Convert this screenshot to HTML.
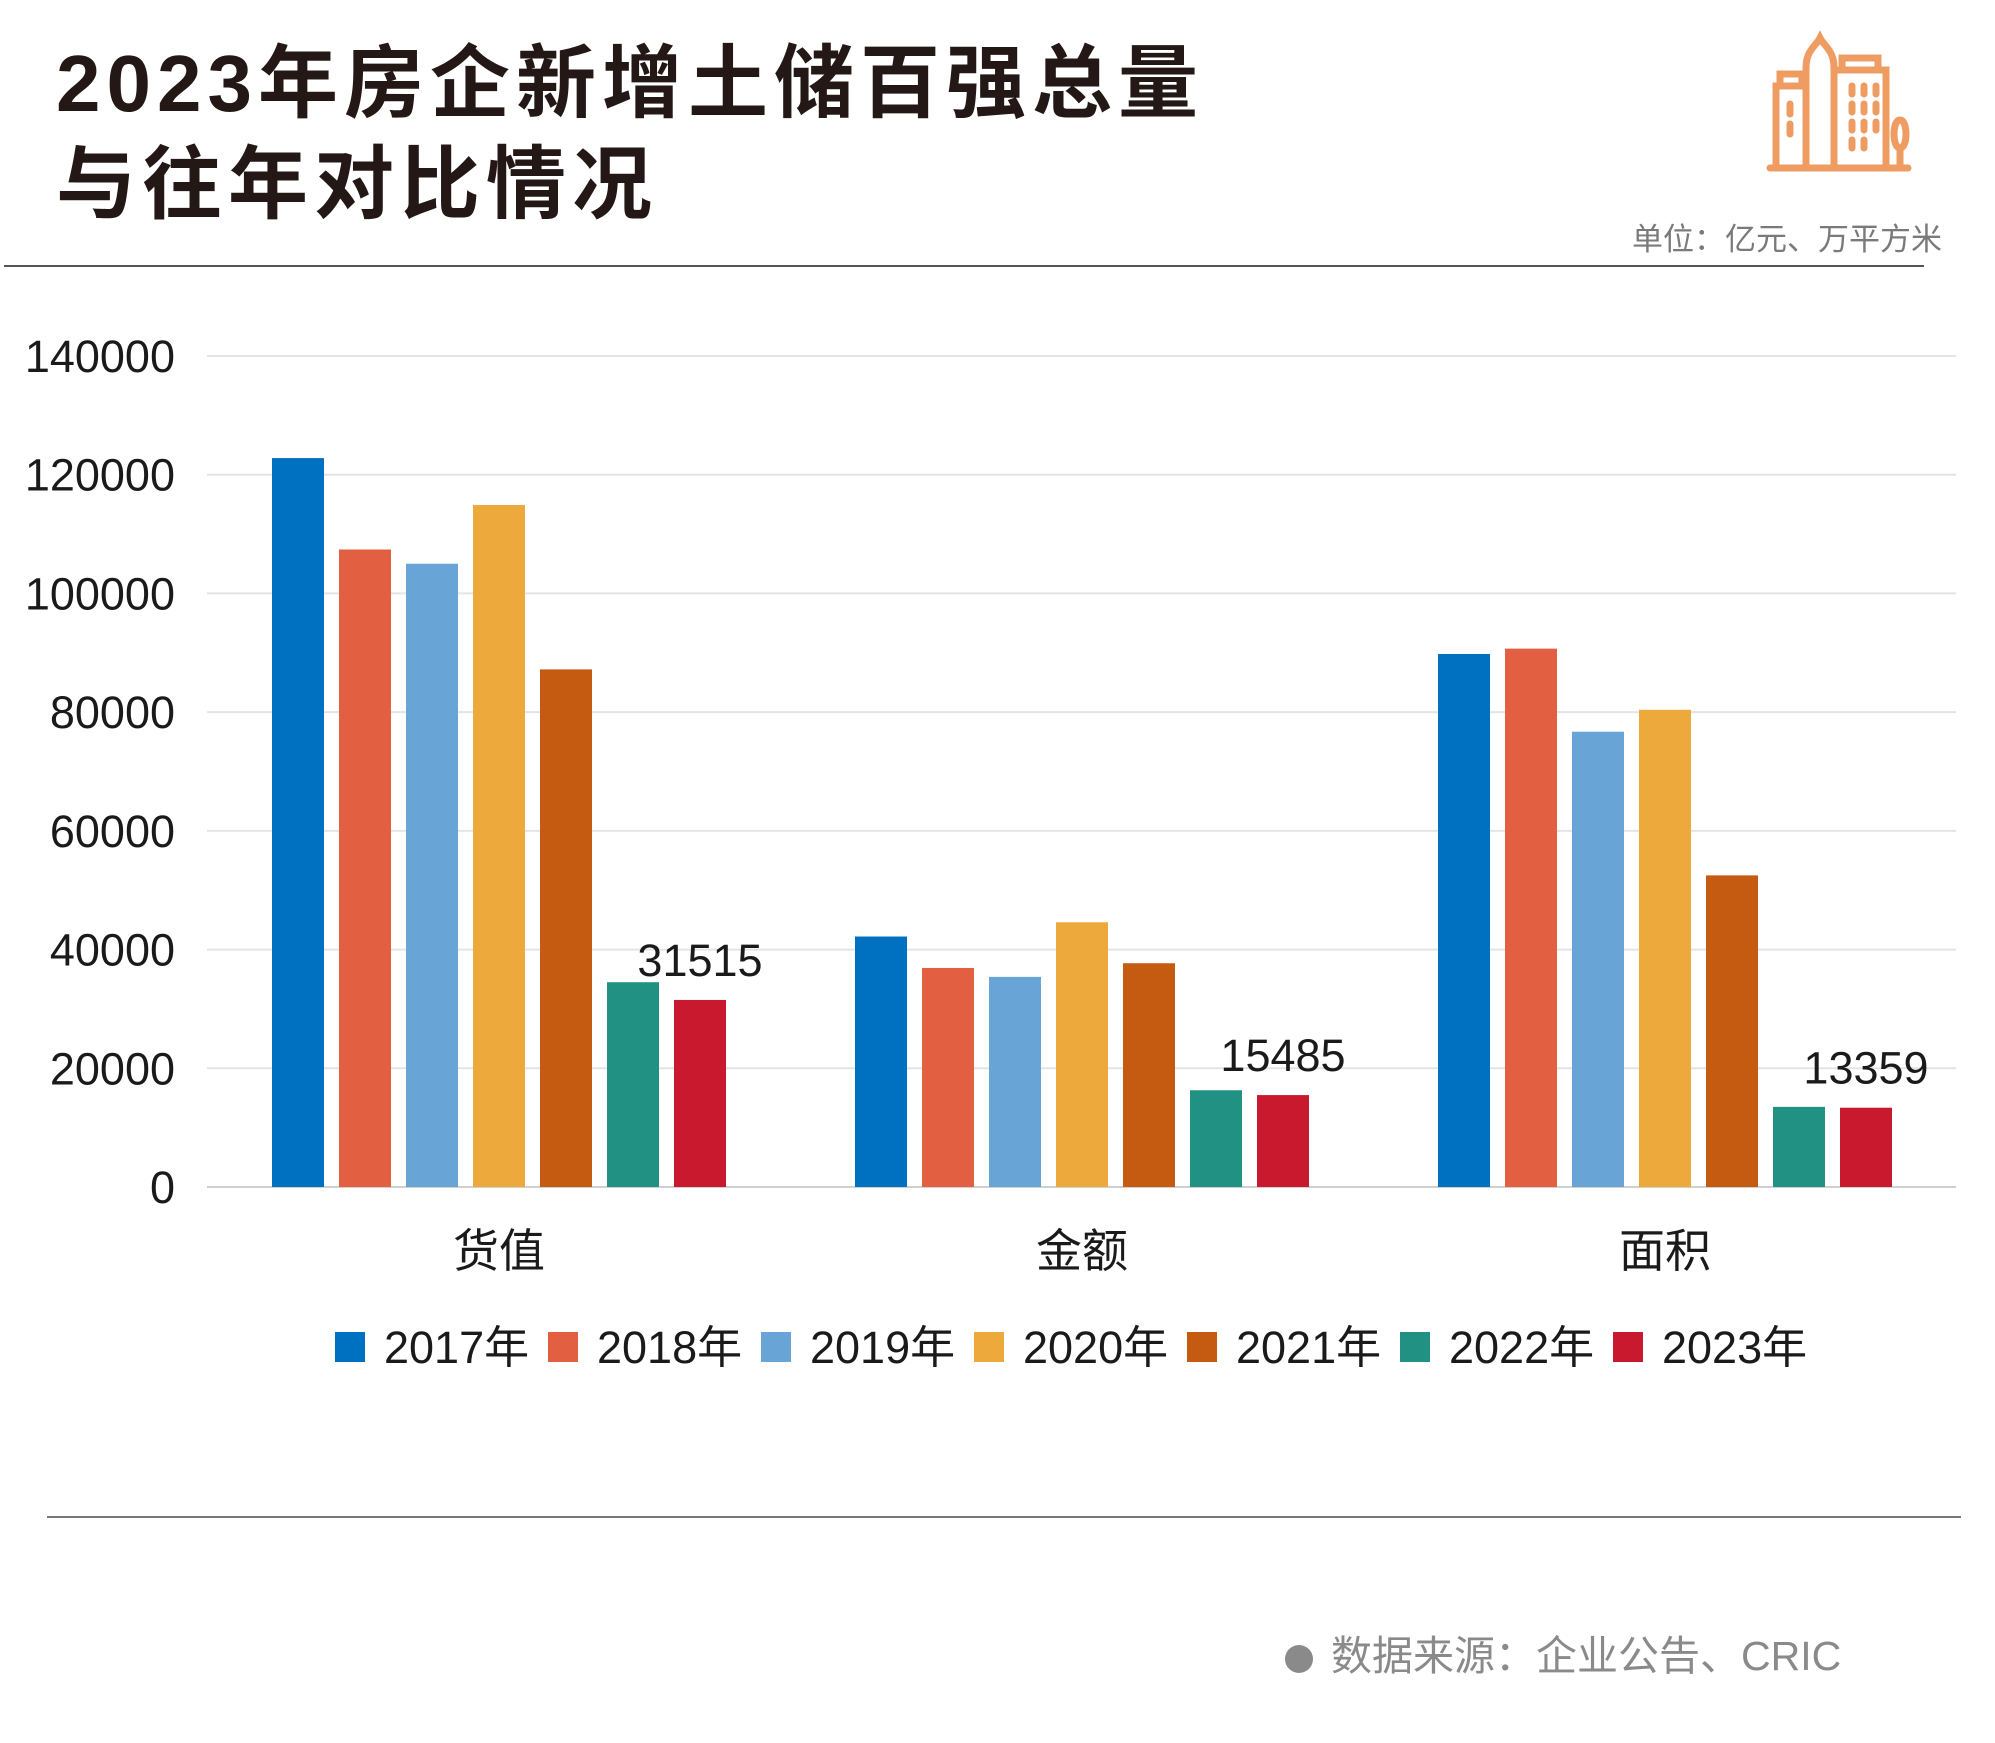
<!DOCTYPE html>
<html><head><meta charset="utf-8">
<style>
body{margin:0;background:#fff;width:1995px;height:1743px;overflow:hidden;font-family:"Liberation Sans","Noto Sans CJK SC",sans-serif;}
.t{position:absolute;left:56px;font-weight:bold;font-size:80px;color:#231815;letter-spacing:6px;line-height:1;}
</style></head><body>
<div class="t" style="top:44px">2023年房企新增土储百强总量</div>
<div class="t" style="top:145px">与往年对比情况</div>
<svg style="position:absolute;left:1760px;top:28px" width="160" height="150" viewBox="0 0 160 150" fill="none" stroke="#EF9C63" stroke-width="7" stroke-linecap="round">
<path d="M16 140V58h30V140M20 58V46h22V58M46 140V40c0-18 10-22 14-30 4 8 14 12 14 30v100M74 140V42h52v98M82 42V30h36v12M10 140h138M30 76v10M30 96v10"/>
<path d="M92 58v8M104 58v8M116 58v8M92 76v8M104 76v8M116 76v8M92 94v8M104 94v8M116 94v8M92 112v8M104 112v8"/>
<path d="M140 140v-20M140 120c-8 0-8-28 0-28 8 0 8 28 0 28z"/>
</svg>
<div style="position:absolute;right:53px;top:214px;font-size:31px;color:#7a7a7a;">单位：亿元、万平方米</div>
<div style="position:absolute;left:4px;top:265px;width:1920px;height:2px;background:#555;"></div>
<svg id="chart" style="position:absolute;left:0;top:0" width="1995" height="1743"></svg>
<div style="position:absolute;left:47px;top:1516px;width:1914px;height:2px;background:#777;"></div>
<div style="position:absolute;left:1285px;top:1622px;font-size:41px;color:#8a8a8a;white-space:nowrap;"><span style="display:inline-block;width:28px;height:28px;border-radius:50%;background:#8a8a8a;margin-right:18px;vertical-align:middle"></span>数据来源：企业公告、CRIC</div>
<script>
const categories=["货值","金额","面积"];
const years=["2017年","2018年","2019年","2020年","2021年","2022年","2023年"];
const colors=["#0070C0","#E35F42","#68A4D6","#EDA93B","#C55A11","#219184","#C8192F"];
const s2017=[122800,42200,89800];
const s2018=[107400,36900,90700];
const s2019=[105000,35400,76700];
const s2020=[114900,44600,80400];
const s2021=[87200,37700,52500];
const s2022=[34500,16300,13500];
const s2023=[31515,15485,13359];
const series=[s2017,s2018,s2019,s2020,s2021,s2022,s2023];
const ticks=[0,20000,40000,60000,80000,100000,120000,140000];
const svg=document.getElementById('chart');
const NS='http://www.w3.org/2000/svg';
const y0=1187,yTop=356,vMax=140000;
const yScale=v=>y0-(v/vMax)*(y0-yTop);
const groupX=i=>272+i*583;
const barX=(g,s)=>groupX(g)+s*67;
const bw=52;
function mk(tag,attrs){const e=document.createElementNS(NS,tag);for(const k in attrs)e.setAttribute(k,attrs[k]);svg.appendChild(e);return e;}
ticks.forEach(t=>{
  const l=mk('line',{x1:207,x2:1956,y1:yScale(t),y2:yScale(t),stroke:t===0?'#d0d0d0':'#e4e4e4','stroke-width':2});
  
  
  const tx=mk('text',{x:175,y:yScale(t)+16,'text-anchor':'end','font-size':45,fill:'#1a1a1a'});
  tx.textContent=t;
  
  
});
series.forEach((arr,s)=>{
  arr.forEach((v,g)=>{
    const r=mk('rect',{x:barX(g,s),y:yScale(v),width:bw,height:y0-yScale(v),fill:colors[s]});
    
    
  });
});
s2023.forEach((v,g)=>{
  const tx=mk('text',{x:barX(g,6)+bw/2,y:yScale(v)-24,'text-anchor':'middle','font-size':45,fill:'#1a1a1a'});
  tx.textContent=v;
  
  
});
categories.forEach((c,g)=>{
  const tx=mk('text',{x:groupX(g)+3*67+bw/2,y:1267,'text-anchor':'middle','font-size':46,fill:'#1a1a1a'});
  tx.textContent=c;
  
  
});
years.forEach((yr,i)=>{
  const x=335+i*213;
  const r=mk('rect',{x:x,y:1332,width:30,height:30,fill:colors[i]});
  
  
  const tx=mk('text',{x:x+49,y:1363,'font-size':45,fill:'#1a1a1a'});
  tx.textContent=yr;
  
  
});
</script>
</body></html>
